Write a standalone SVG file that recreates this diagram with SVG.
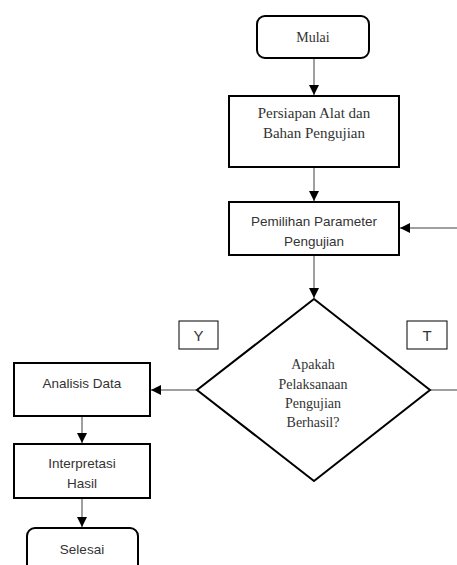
<svg xmlns="http://www.w3.org/2000/svg" width="457" height="565" viewBox="0 0 457 565">
<defs>
<marker id="ah" markerWidth="10" markerHeight="10" refX="10" refY="5" orient="auto" markerUnits="userSpaceOnUse">
<path d="M0,0 L10,5 L0,10 Z" fill="#000"/>
</marker>
<style>
.box{fill:#fff;stroke:#000;stroke-width:2}
.lbl{fill:#fff;stroke:#000;stroke-width:1}
.con{fill:none;stroke:#808080;stroke-width:1.5}
.serif{font-family:"Liberation Serif",serif;font-size:14px;fill:#333;text-anchor:middle}
.sans{font-family:"Liberation Sans",sans-serif;font-size:13.5px;fill:#333;text-anchor:middle}
.big{font-family:"Liberation Sans",sans-serif;font-size:15px;fill:#333;text-anchor:middle}
</style>
</defs>
<rect width="457" height="565" fill="#fff"/>
<g id="connectors">
<line class="con" x1="314" y1="58" x2="314" y2="95" marker-end="url(#ah)"/>
<line class="con" x1="314" y1="167" x2="314" y2="201" marker-end="url(#ah)"/>
<line class="con" x1="457" y1="228" x2="400" y2="228" marker-end="url(#ah)"/>
<line class="con" x1="314" y1="255" x2="314" y2="298" marker-end="url(#ah)"/>
<line class="con" x1="197" y1="390" x2="151" y2="390" marker-end="url(#ah)"/>
<line class="con" x1="430" y1="390" x2="457" y2="390"/>
<line class="con" x1="82" y1="416" x2="82" y2="443" marker-end="url(#ah)"/>
<line class="con" x1="82" y1="498" x2="82" y2="527" marker-end="url(#ah)"/>
</g>
<g id="mulai">
<rect class="box" x="257" y="16" width="112" height="42" rx="8"/>
<text class="serif" x="313" y="42">Mulai</text>
</g>
<g id="persiapan">
<rect class="box" x="229" y="96" width="170" height="71"/>
<text class="serif" x="314" y="118" style="font-size:15px">Persiapan Alat dan</text>
<text class="serif" x="314" y="138" style="font-size:15px">Bahan Pengujian</text>
</g>
<g id="pemilihan">
<rect class="box" x="229" y="202" width="170" height="53"/>
<text class="sans" x="314" y="226">Pemilihan Parameter</text>
<text class="sans" x="314" y="246">Pengujian</text>
</g>
<g id="keputusan">
<polygon class="box" points="314,299 430,390 314,481 197,390"/>
<text class="serif" x="313" y="369">Apakah</text>
<text class="serif" x="313" y="389">Pelaksanaan</text>
<text class="serif" x="313" y="408">Pengujian</text>
<text class="serif" x="313" y="427">Berhasil?</text>
</g>
<g id="label-y">
<rect class="lbl" x="179" y="321" width="39" height="28"/>
<text class="big" x="198.5" y="341">Y</text>
</g>
<g id="label-t">
<rect class="lbl" x="407" y="321" width="40" height="28"/>
<text class="big" x="427" y="341">T</text>
</g>
<g id="analisis">
<rect class="box" x="14" y="363" width="136" height="53"/>
<text class="sans" x="82" y="388">Analisis Data</text>
</g>
<g id="interpretasi">
<rect class="box" x="14" y="444" width="136" height="54"/>
<text class="sans" x="82" y="468">Interpretasi</text>
<text class="sans" x="82" y="488">Hasil</text>
</g>
<g id="selesai">
<rect class="box" x="27" y="528" width="111" height="60" rx="8"/>
<text class="sans" x="82" y="554">Selesai</text>
</g>
</svg>
